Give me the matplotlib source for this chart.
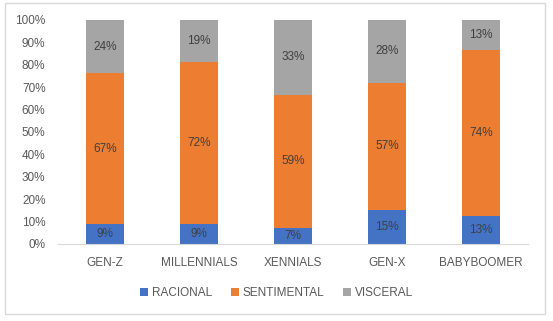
import matplotlib.pyplot as plt
from matplotlib.patches import Rectangle
import numpy as np

plt.rcParams['font.family'] = ['Liberation Sans', 'DejaVu Sans']

categories = ['GEN-Z', 'MILLENNIALS', 'XENNIALS', 'GEN-X', 'BABYBOOMER']
racional = [8.8, 9.0, 7.2, 15.2, 12.7]
sentimental = [67.4, 72.2, 59.4, 56.7, 74.1]
visceral = [23.8, 18.8, 33.4, 28.1, 13.2]
series_names = ['RACIONAL', 'SENTIMENTAL', 'VISCERAL']
colors = ['#4472C4', '#ED7D31', '#A5A5A5']
txt = '#595959'

fig = plt.figure(figsize=(5.53, 3.21), dpi=100)
ax = fig.add_axes([58/553, 77/321, 470/553, 224/321])

x = np.arange(len(categories))
bottom = np.zeros(len(categories))
for name, vals, c in zip(series_names, [racional, sentimental, visceral], colors):
    vals = np.array(vals)
    ax.bar(x, vals, 0.4, bottom=bottom, color=c, label=name)
    for xi, b, v in zip(x, bottom, vals):
        ax.text(xi, b + v / 2, f'{round(v)}%', ha='center', va='center',
                fontsize=8.5, color='#404040')
    bottom += vals

ax.set_xlim(-0.5, len(categories) - 0.5)
ax.set_ylim(0, 100)
ax.set_yticks(np.arange(0, 101, 10))
ax.set_yticklabels([f'{v}%' for v in range(0, 101, 10)])
ax.set_xticks(x)
ax.set_xticklabels(categories)
ax.tick_params(length=0, labelsize=8.5, colors=txt)
ax.tick_params(axis='x', pad=9)
ax.tick_params(axis='y', pad=9)
for s in ['top', 'right', 'left']:
    ax.spines[s].set_visible(False)
ax.spines['bottom'].set_color('#D9D9D9')

fig.legend(loc='center', bbox_to_anchor=(0.5, 1 - 293/321), ncol=3,
           frameon=False, fontsize=8.5, handlelength=0.7, handleheight=0.7,
           handletextpad=0.3, columnspacing=1.6, labelcolor=txt)

fig.patches.append(Rectangle((5/553, 7/321), 540/553, 311/321,
                             transform=fig.transFigure, fill=False,
                             edgecolor='#D9D9D9', linewidth=1))

fig.savefig('out.png', dpi=100)
